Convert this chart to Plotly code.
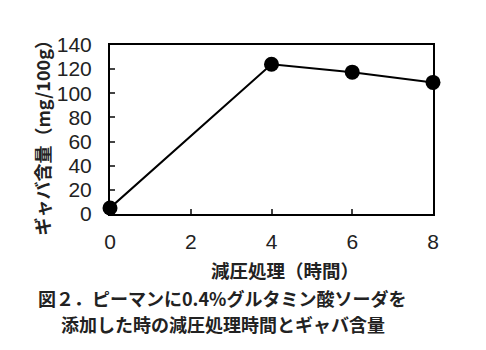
import plotly.graph_objects as go

hours = [0, 4, 6, 8]
gaba = [5, 124, 117.5, 109]
x_ticks = [0, 2, 4, 6, 8]
y_ticks = [0, 20, 40, 60, 80, 100, 120, 140]

font_jp = "Noto Sans CJK JP"
num_font = "Liberation Sans, Arial"

fig = go.Figure()
fig.add_trace(go.Scatter(
    x=hours, y=gaba, mode="lines+markers",
    line=dict(color="black", width=2),
    marker=dict(color="black", size=15),
    cliponaxis=False, showlegend=False,
))

fig.update_layout(
    width=486, height=350,
    margin=dict(l=110, r=53, t=45, b=136),
    paper_bgcolor="white", plot_bgcolor="white",
    font=dict(family=font_jp, color="black"),
    xaxis=dict(
        range=[0, 8], tickvals=x_ticks, ticks="inside", ticklen=5, tickwidth=1.5,
        showline=True, linecolor="black", linewidth=2, mirror=True,
        showgrid=False, zeroline=False, ticklabelstandoff=8,
        tickfont=dict(family=num_font, size=21, color="#222"),
    ),
    yaxis=dict(
        range=[0, 140], tickvals=y_ticks, ticks="inside", ticklen=5, tickwidth=1.5,
        showline=True, linecolor="black", linewidth=2, mirror=True,
        showgrid=False, zeroline=False, ticklabelstandoff=12,
        tickfont=dict(family=num_font, size=21, color="#222"),
    ),
)

def px_x(p):
    return (p - 110) / 323

def px_y(p):
    return (214 - p) / 170

fig.add_annotation(text="<b>ギャバ含量（mg/100g）</b>", xref="paper", yref="paper",
                   x=px_x(42), y=px_y(133), xanchor="center", yanchor="middle",
                   textangle=-90, showarrow=False,
                   font=dict(size=18, family=font_jp, color="#222"))
fig.add_annotation(text="<b>減圧処理（時間）</b>", xref="paper", yref="paper",
                   x=px_x(285), y=px_y(270), xanchor="center", yanchor="middle", showarrow=False,
                   font=dict(size=18.5, family=font_jp, color="#222"))
fig.add_annotation(text="<b>図２．ピーマンに0.4%グルタミン酸ソーダを</b>",
                   xref="paper", yref="paper",
                   x=px_x(222), y=px_y(298), xanchor="center", yanchor="middle", showarrow=False,
                   font=dict(size=18, family=font_jp, color="#222"))
fig.add_annotation(text="<b>添加した時の減圧処理時間とギャバ含量</b>",
                   xref="paper", yref="paper",
                   x=px_x(223), y=px_y(325), xanchor="center", yanchor="middle", showarrow=False,
                   font=dict(size=18, family=font_jp, color="#222"))

fig.write_html("out.html")
